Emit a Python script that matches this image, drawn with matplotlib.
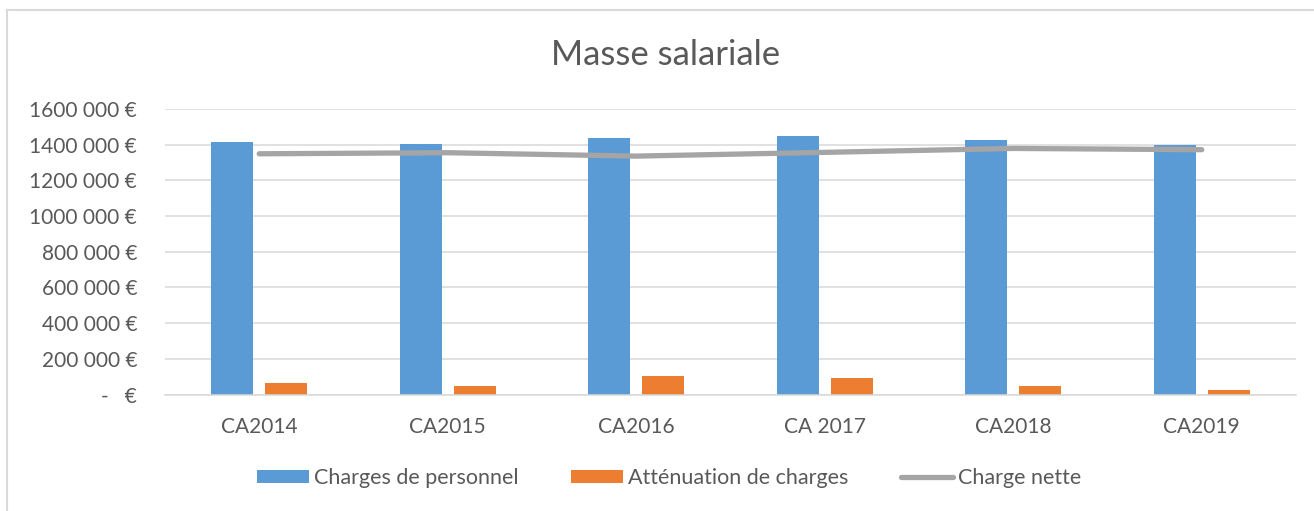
# Graphique "Masse salariale" : barres groupées (charges / atténuations)
# avec une courbe pour la charge nette.

import numpy as np
import matplotlib.pyplot as plt
from matplotlib.patches import Patch
from matplotlib.lines import Line2D
import matplotlib.ticker as ticker

plt.rcParams['font.family'] = ['Lato', 'DejaVu Sans']

# Données
annees = ['CA2014', 'CA2015', 'CA2016', 'CA 2017', 'CA2018', 'CA2019']
charges_personnel = [1413000, 1404000, 1437000, 1450000, 1428000, 1400000]
attenuation_charges = [64000, 49000, 101000, 93000, 49000, 28000]
charge_nette = [1349000, 1355000, 1336000, 1357000, 1379000, 1372000]

gris_texte = '#595959'
bleu = '#5B9BD5'
orange = '#ED7D31'
gris_ligne = '#A5A5A5'

fig = plt.figure(figsize=(13.14, 5.11), dpi=100)
ax = fig.add_axes([165 / 1314, (511 - 394.5) / 511, 1131 / 1314, 285.5 / 511])

x = np.arange(len(annees))
largeur = 0.223
decalage = 0.1425

ax.bar(x - decalage, charges_personnel, largeur, color=bleu, zorder=2)
ax.bar(x + decalage, attenuation_charges, largeur, color=orange, zorder=2)
ax.plot(x, charge_nette, color=gris_ligne, linewidth=3.8,
        solid_capstyle='round', solid_joinstyle='round', zorder=3)

ax.set_xlim(-0.5, len(annees) - 0.5)
ax.set_ylim(0, 1600000)
ax.yaxis.set_major_locator(ticker.MultipleLocator(200000))


def format_euro(v, pos):
    v = int(round(v))
    if v == 0:
        return '-   €'
    return f'{v // 1000} {v % 1000:03d} €'


ax.yaxis.set_major_formatter(ticker.FuncFormatter(format_euro))
ax.set_xticks(x)
ax.set_xticklabels(annees)

# Grille et axes façon Excel
ax.grid(axis='y', color='#D9D9D9', linewidth=1.1, zorder=0)
for cote in ['top', 'right', 'left']:
    ax.spines[cote].set_visible(False)
ax.spines['bottom'].set_color('#D9D9D9')
ax.spines['bottom'].set_linewidth(1.1)
ax.tick_params(axis='both', length=0, colors=gris_texte, labelsize=15)
ax.tick_params(axis='y', pad=20)
ax.tick_params(axis='x', pad=16)

fig.text(666 / 1314, (511 - 55) / 511, 'Masse salariale', ha='center', va='center',
         fontsize=25, color=gris_texte)

# Légende en bas
poignees = [Patch(facecolor=bleu), Patch(facecolor=orange),
            Line2D([0], [0], color=gris_ligne, linewidth=3.8, solid_capstyle='round')]
etiquettes = ['Charges de personnel', 'Atténuation de charges', 'Charge nette']
leg = fig.legend(poignees, etiquettes, loc='center', bbox_to_anchor=(669 / 1314, (511 - 478) / 511),
                 ncol=3, frameon=False, fontsize=15.5, handlelength=2.42, handleheight=0.55,
                 handletextpad=0.23, columnspacing=2.45)
for t in leg.get_texts():
    t.set_color(gris_texte)

# Bordure du cadre (visible à gauche et en haut)
fig.add_artist(Line2D([7 / 1314, 7 / 1314], [0, (511 - 10.5) / 511], color='#D9D9D9', linewidth=1.5))
fig.add_artist(Line2D([7 / 1314, 1], [(511 - 10.5) / 511, (511 - 10.5) / 511], color='#D9D9D9', linewidth=1.5))

fig.savefig('out.png', dpi=100)
